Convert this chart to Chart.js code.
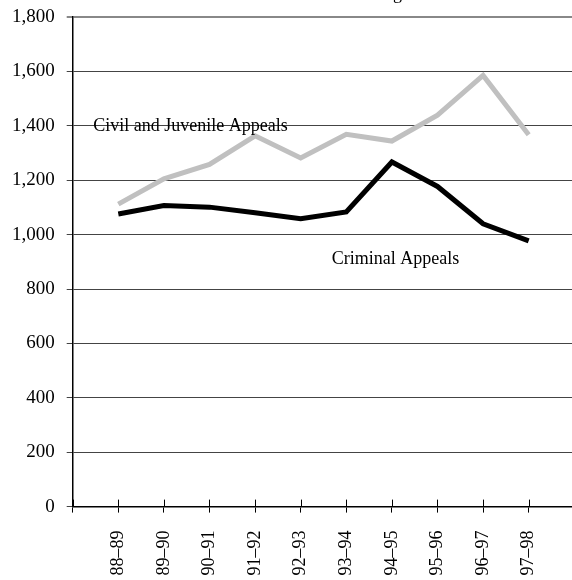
<!DOCTYPE html>
<html>
<head>
<meta charset="utf-8">
<script src="https://cdn.jsdelivr.net/npm/chart.js@4"></script>
<style>
  html, body { margin: 0; padding: 0; background: #fff; }
</style>
</head>
<body>
<canvas id="chart" width="572" height="580"></canvas>
<script>
const years = ['88–89', '89–90', '90–91', '91–92', '92–93', '93–94', '94–95', '95–96', '96–97', '97–98'];
const civilJuvenile = [1112, 1205, 1258, 1363, 1282, 1369, 1344, 1439, 1585, 1367];
const criminal = [1076, 1107, 1101, 1080, 1058, 1083, 1267, 1177, 1040, 977];
const seriesNames = ['Civil and Juvenile Appeals', 'Criminal Appeals'];
const yTicks = [0, 200, 400, 600, 800, 1000, 1200, 1400, 1600, 1800];

const FONT = "'Liberation Serif', 'Times New Roman', serif";

// series labels placed inside the plot, next to their lines
const labelSpots = [
  { x: -0.55, y: 1400 },
  { x: 4.68, y: 910 },
];

const textPlugin = {
  id: 'textPlugin',
  afterDraw(chart) {
    const { ctx, scales } = chart;
    const xs = scales.x, ys = scales.y;
    ctx.save();
    // upper half of the x ticks (they cross the axis)
    ctx.strokeStyle = '#000';
    ctx.lineWidth = 1;
    xs.ticks.forEach(t => {
      const px = Math.round(xs.getPixelForValue(t.value)) + 0.5;
      ctx.beginPath();
      ctx.moveTo(px, ys.bottom);
      ctx.lineTo(px, ys.bottom - 7);
      ctx.stroke();
    });
    ctx.fillStyle = '#000';
    ctx.font = '18px ' + FONT;
    ctx.textBaseline = 'middle';
    ctx.textAlign = 'left';
    seriesNames.forEach((name, i) => {
      ctx.fillText(name, xs.getPixelForValue(labelSpots[i].x), ys.getPixelForValue(labelSpots[i].y));
    });
    // clipped title at the top edge
    ctx.textBaseline = 'alphabetic';
    ctx.textAlign = 'right';
    ctx.fillText('Filings', 409, -1);
    ctx.restore();
  }
};

new Chart(document.getElementById('chart'), {
  type: 'line',
  data: {
    datasets: [
      {
        label: seriesNames[0],
        data: civilJuvenile.map((v, i) => ({ x: i, y: v })),
        borderColor: '#c0c0c0',
        borderWidth: 5,
        pointRadius: 0,
        tension: 0,
      },
      {
        label: seriesNames[1],
        data: criminal.map((v, i) => ({ x: i, y: v })),
        borderColor: '#000',
        borderWidth: 5,
        pointRadius: 0,
        tension: 0,
      },
    ],
  },
  options: {
    responsive: false,
    animation: false,
    devicePixelRatio: 1,
    layout: { padding: { top: 17, left: 0, right: 0, bottom: 0 } },
    plugins: {
      legend: { display: false },
      title: { display: false },
      tooltip: { enabled: false },
    },
    scales: {
      x: {
        type: 'linear',
        min: -1,
        max: 9.95,
        afterBuildTicks: (scale) => {
          scale.ticks = [-1].concat(years.map((y, i) => i)).map(v => ({ value: v }));
        },
        afterFit: (scale) => {
          scale.height = 73.4;
          scale.paddingLeft = 0;
          scale.paddingRight = 0;
        },
        grid: {
          drawOnChartArea: false,
          drawTicks: true,
          tickLength: 6,
          color: '#000',
        },
        border: { display: true, color: '#000', width: 1.5 },
        ticks: {
          autoSkip: false,
          maxRotation: 90,
          minRotation: 90,
          padding: 18,
          color: '#000',
          font: { family: FONT, size: 18 },
          callback: (v) => (years[v] !== undefined ? years[v] : ''),
        },
      },
      y: {
        min: 0,
        max: 1800,
        afterBuildTicks: (scale) => {
          scale.ticks = yTicks.map(v => ({ value: v }));
        },
        afterFit: (scale) => {
          scale.width = 72.7;
          scale.paddingTop = 0;
          scale.paddingBottom = 0;
        },
        grid: {
          drawTicks: true,
          tickLength: 6,
          color: (c) => (c.tick && c.tick.value === 1800 ? '#888' : '#444'),
          lineWidth: (c) => (c.tick && c.tick.value === 1800 ? 2 : 1),
        },
        border: { display: true, color: '#000', width: 1.5 },
        ticks: {
          padding: 12,
          color: '#000',
          font: { family: FONT, size: 19 },
          callback: (v) => v.toLocaleString('en-US'),
        },
      },
    },
  },
  plugins: [textPlugin],
});
</script>
</body>
</html>
